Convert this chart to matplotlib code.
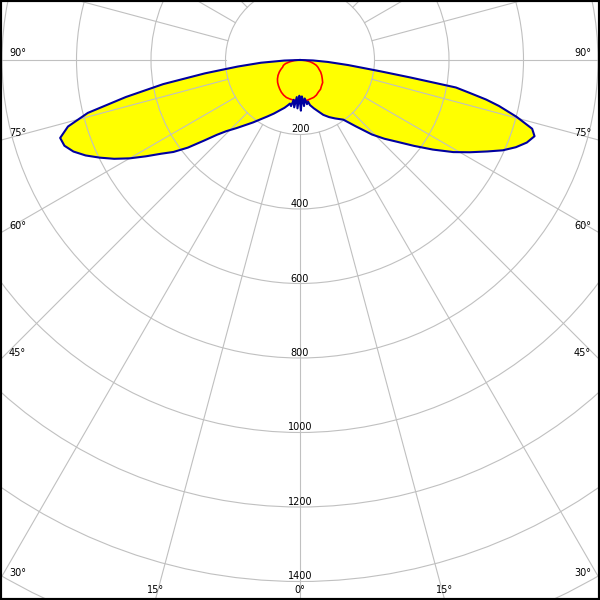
import numpy as np
import matplotlib
matplotlib.use('Agg')
import matplotlib.pyplot as plt
from matplotlib.patches import Circle

# C0-C180 plane (blue, filled), angle from nadir, left side negative
blue_ang = [-90, -88, -86, -84, -82, -80, -78, -76, -74, -72,
            -70, -68, -66, -64, -62, -60, -58, -56, -54, -52,
            -50, -48, -46, -43, -40, -37, -34, -30, -26, -22,
            -18, -15, -13, -11, -9, -7, -5, -3, -1, 0,
            1, 3, 5, 7, 9, 11, 12.5, 16, 20, 23,
            27, 31, 36, 40, 44, 47, 50, 53, 56, 59,
            61.5, 64, 66, 68, 70, 72, 73.5, 75.3, 77, 78,
            79, 80, 81, 82, 84, 86, 88, 90]
blue_cd = [0, 42, 105, 168, 258, 373, 478, 587, 648, 677,
           673, 656, 630, 598, 565, 528, 488, 450, 420, 382,
           337, 300, 275, 250, 228, 210, 193, 175, 160, 146,
           135, 126, 120, 126, 108, 128, 100, 130, 96, 112,
           136, 98, 124, 104, 120, 114, 124, 135, 148, 160,
           172, 183, 198, 232, 278, 310, 342, 383, 430, 480,
           519, 560, 596, 625, 648, 662, 650, 601, 548, 511,
           465, 425, 300, 218, 130, 75, 35, 0]

# C90-C270 plane (red)
red_ang = [-90, -85, -80, -76, -72, -68, -64, -60, -55, -50,
           -45, -40, -35, -30, -25, -20, -15, -10, -5, 0,
           5, 10, 15, 20, 25, 30, 35, 40, 45, 50,
           55, 60, 64, 68, 72, 76, 80, 85, 90]
red_cd = [2, 15, 28, 40, 47, 50, 57, 64, 72, 79,
          85, 90, 95, 100, 104, 107, 108, 109, 110, 110,
          109, 110, 108, 107, 104, 99, 96, 90, 86, 78,
          71, 64, 57, 52, 46, 37, 28, 15, 2]

rings = [200, 400, 600, 800, 1000, 1200, 1400, 1600]
ring_labels = [200, 400, 600, 800, 1000, 1200, 1400]
label_angles = [0, 15, 30, 45, 60, 75, 90]

px_per_cd = 521.5 / 1400
grid_col = '#c0c0c0'


def to_xy(ang, cd):
    a = np.radians(np.asarray(ang, dtype=float))
    cd = np.asarray(cd, dtype=float)
    return cd * np.sin(a), -cd * np.cos(a)


fig = plt.figure(figsize=(6, 6), dpi=100)
ax = fig.add_axes([0, 0, 1, 1])
x0, x1 = -300 / px_per_cd, 300 / px_per_cd
y0, y1 = -540 / px_per_cd, 60 / px_per_cd
ax.set_xlim(x0, x1)
ax.set_ylim(y0, y1)
ax.set_xticks([])
ax.set_yticks([])
for sp in ax.spines.values():
    sp.set_linewidth(3)
    sp.set_color('black')

# fill + grid
bx, by = to_xy(blue_ang, blue_cd)
ax.fill(bx, by, color='#ffff00', lw=0, zorder=1)

for r in rings:
    ax.add_patch(Circle((0, 0), r, fill=False, ec=grid_col, lw=0.8, zorder=2))
for k in range(24):
    a = np.radians(k * 15)
    ax.plot([200 * np.sin(a), 2000 * np.sin(a)], [-200 * np.cos(a), -2000 * np.cos(a)],
            color=grid_col, lw=0.8, zorder=2)

rx, ry = to_xy(red_ang, red_cd)
ax.plot(rx, ry, color='#ff0000', lw=1.2, zorder=3)
ax.plot(bx, by, color='#0000a0', lw=1.5, zorder=4)

# ring labels
for r in ring_labels:
    ax.annotate(str(r), xy=(0, -r), xytext=(0, 2), textcoords='offset pixels',
                ha='center', va='baseline', fontsize=7, zorder=5)

# angle labels at the frame edges
for ang in label_angles:
    a = np.radians(ang)
    for side in ([-1, 1] if ang else [1]):
        dx, dy = side * np.sin(a), -np.cos(a)
        t_side = abs(x0 / dx) if abs(dx) > 1e-9 else np.inf
        t_bot = abs(y0 / dy) if abs(dy) > 1e-9 else np.inf
        if t_side < t_bot:
            px, py = side * x1, dy * t_side
            off = (-9 if side > 0 else 9, 4)
            ha = 'right' if side > 0 else 'left'
        else:
            px, py = dx * t_bot, y0
            off = (0, 7)
            ha = 'center'
        ax.annotate(f'{ang}°', xy=(px, py), xytext=off, textcoords='offset pixels',
                    ha=ha, va='baseline', fontsize=7, zorder=5)

fig.savefig('out.png', dpi=100)
